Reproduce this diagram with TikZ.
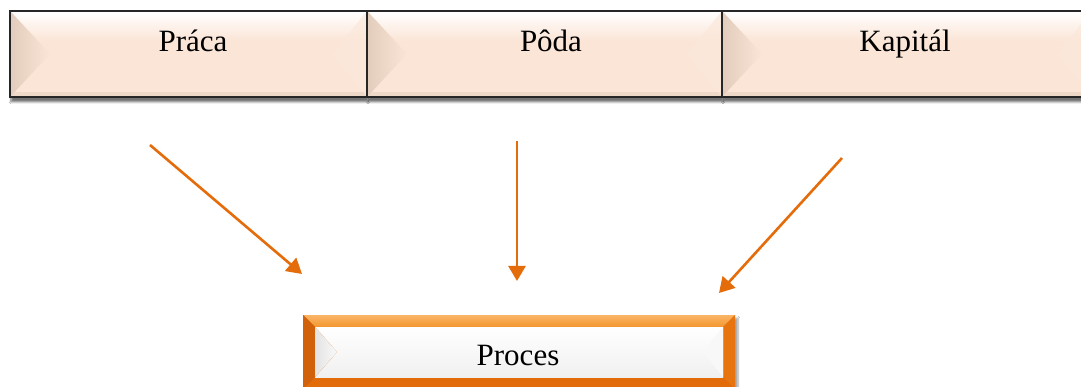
\documentclass[tikz,border=0pt]{standalone}
\usepackage{fontspec}
\setmainfont{Liberation Serif}
\usetikzlibrary{arrows.meta,calc,shadows.blur}

\definecolor{peach}{HTML}{FBE5D6}
\definecolor{peachdark}{HTML}{E2CCBC}
\definecolor{peachlight}{HTML}{FBE8DB}
\definecolor{peachedge}{HTML}{EED8C8}
\definecolor{accent}{HTML}{E46C0A}
\definecolor{orangetop}{HTML}{FAB466}
\definecolor{orangemid}{HTML}{F4972F}
\definecolor{orangeleft}{HTML}{D1610A}
\definecolor{orangeright}{HTML}{E8740F}
\definecolor{orangebottom}{HTML}{E36C0A}
\definecolor{innergray}{HTML}{E3E3E3}
\definecolor{innerlow}{HTML}{F0F0F0}

\tikzset{
  labeltext/.style={font=\fontsize{31}{36}\selectfont, inner sep=0pt, anchor=base},
  flow/.style={draw=accent, line width=2.6pt, -{Triangle[length=15pt,width=17pt]}},
  % light bevelled box with a dark frame
  peachbox/.style={draw=black!85, line width=2.3pt, fill=peach, minimum height=86pt,
    inner sep=0pt,
    blur shadow={shadow xshift=1pt, shadow yshift=-5pt, shadow blur steps=6, shadow opacity=55},
    path picture={
      \coordinate (ppnw) at (path picture bounding box.north west);
      \coordinate (ppne) at (path picture bounding box.north east);
      \coordinate (ppsw) at (path picture bounding box.south west);
      \coordinate (ppse) at (path picture bounding box.south east);
      \coordinate (ppw) at (path picture bounding box.west);
      \coordinate (ppe) at (path picture bounding box.east);
      \fill[top color=white, bottom color=peach] (ppnw) rectangle ($(ppne)+(0,30)$);
      \fill[peachedge] ($(ppsw)+(0,-5)$) rectangle (ppse);
      \fill[left color=peachdark, right color=peach] (ppnw) -- ($(ppw)+(40,0)$) -- (ppsw) -- cycle;
      \fill[peachlight, fill opacity=0.7] (ppne) -- ($(ppe)+(-35,0)$) -- (ppse) -- cycle;
    }},
  % orange bevelled frame with a white inner panel
  orangebox/.style={fill=orangebottom, minimum width=432pt, minimum height=74pt, inner sep=0pt,
    blur shadow={shadow xshift=3pt, shadow yshift=-3pt, shadow blur steps=6, shadow opacity=35},
    path picture={
      \coordinate (qnw) at (path picture bounding box.north west);
      \coordinate (qne) at (path picture bounding box.north east);
      \coordinate (qsw) at (path picture bounding box.south west);
      \coordinate (qse) at (path picture bounding box.south east);
      \fill[top color=orangetop, bottom color=orangemid] (qnw) -- (qne) -- ($(qne)+(-12,12)$) -- ($(qnw)+(12,12)$) -- cycle;
      \fill[orangeleft] (qnw) -- ($(qnw)+(12,12)$) -- ($(qsw)+(12,-12)$) -- (qsw) -- cycle;
      \fill[orangeright] (qne) -- (qse) -- ($(qse)+(-12,-12)$) -- ($(qne)+(-12,12)$) -- cycle;
      \fill[top color=white, bottom color=innerlow] ($(qnw)+(12,12)$) rectangle ($(qse)+(-12,-12)$);
      \fill[left color=innergray, right color=white!60!innerlow] ($(qnw)+(12,12)$) -- ($(qnw)+(34,37)$) -- ($(qsw)+(12,-12)$) -- cycle;
      \fill[white!50!innerlow] ($(qne)+(-12,12)$) -- ($(qne)+(-32,37)$) -- ($(qse)+(-12,-12)$) -- cycle;
    }}
}

\begin{document}
\begin{tikzpicture}[x=1pt,y=-1pt]
  \useasboundingbox[fill=white] (0,0) rectangle (1081,387);

  % inputs
  \node[peachbox, minimum width=357pt] (prace) at (188.5,54) {};
  \node[peachbox, minimum width=355pt] (poda) at (544.5,54) {};
  \node[peachbox, minimum width=370pt] (kapital) at (907,54) {};

  \node[labeltext] (prace-t) at (193,52) {Práca};
  \node[labeltext] (poda-t) at (551,52) {Pôda};
  \node[labeltext] (kapital-t) at (905,52) {Kapitál};

  % process
  \node[orangebox] (proces) at (519,352) {};
  \node[labeltext] (proces-t) at (518,365) {Proces};

  % connectors
  \coordinate (a1s) at (150,145);
  \coordinate (a1e) at (302,274);
  \coordinate (a2s) at (517,141);
  \coordinate (a2e) at (517,281);
  \coordinate (a3s) at (842,158);
  \coordinate (a3e) at (719,293);
  \draw[flow] (a1s) -- (a1e);
  \draw[flow] (a2s) -- (a2e);
  \draw[flow] (a3s) -- (a3e);
\end{tikzpicture}
\end{document}
